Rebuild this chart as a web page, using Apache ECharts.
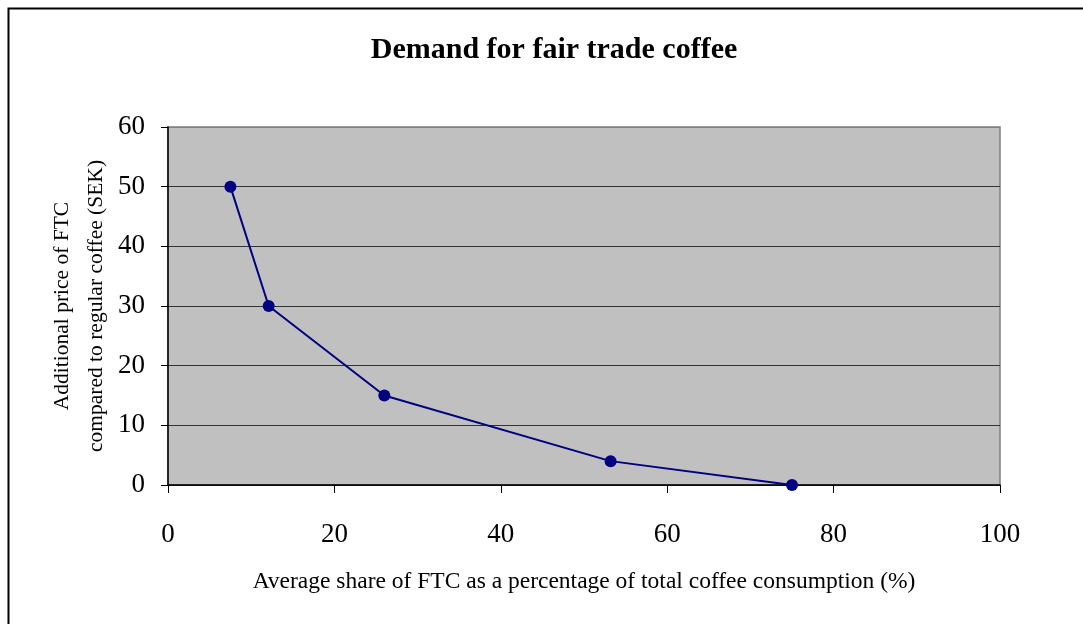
<!DOCTYPE html>
<html>
<head>
<meta charset="utf-8">
<script src="https://cdn.jsdelivr.net/npm/echarts@6/dist/echarts.min.js"></script>
<style>
  html, body { margin: 0; padding: 0; background: #fff; }
  #chart { width: 1083px; height: 624px; }
</style>
</head>
<body>
<div id="chart"></div>
<script>
// Demand curve for fair trade coffee (FTC)
const shareOfConsumption = [7.5, 12.1, 26.0, 53.2, 75.0];   // % of total coffee consumption
const extraPriceSEK      = [50, 30, 15, 4, 0];               // additional price vs regular coffee
const xTicks = [0, 20, 40, 60, 80, 100];
const yTicks = [0, 10, 20, 30, 40, 50, 60];

const points = shareOfConsumption.map((x, i) => [x, extraPriceSEK[i]]);
const serif = '"Liberation Serif", "DejaVu Serif", serif';

const chart = echarts.init(document.getElementById('chart'), null, { renderer: 'canvas' });
chart.setOption({
  backgroundColor: '#ffffff',
  animation: false,
  title: {
    text: 'Demand for fair trade coffee',
    left: 549, top: 30, textAlign: 'center',
    textStyle: { fontFamily: serif, fontWeight: 'bold', fontSize: 30, color: '#000' }
  },
  graphic: [{
    type: 'rect', left: 6, top: 6, z: -1,
    shape: { width: 1200, height: 800 },
    style: { fill: 'none', stroke: '#000', lineWidth: 2 }
  }],
  grid: {
    left: 168, top: 127, right: 83, bottom: 139,
    show: true, backgroundColor: '#c0c0c0', borderColor: '#808080', borderWidth: 1.5
  },
  xAxis: {
    type: 'value', min: xTicks[0], max: xTicks[xTicks.length - 1], interval: 20,
    name: 'Average share of FTC as a percentage of total coffee consumption (%)',
    nameLocation: 'middle', nameGap: 85, nameMoveOverlap: false,
    nameTextStyle: { fontFamily: serif, fontSize: 23.5, color: '#000' },
    axisLine: { show: true, lineStyle: { color: '#000', width: 1.5 } },
    axisTick: { show: true, length: 8, lineStyle: { color: '#000' } },
    axisLabel: { margin: 36, fontFamily: serif, fontSize: 27, color: '#000' },
    splitLine: { show: false }
  },
  yAxis: {
    type: 'value', min: yTicks[0], max: yTicks[yTicks.length - 1], interval: 10,
    name: 'Additional price of FTC\ncompared to regular coffee (SEK)',
    nameLocation: 'middle', nameGap: 89, nameRotate: 90, nameMoveOverlap: false,
    nameTextStyle: { fontFamily: serif, fontSize: 21.5, color: '#000', lineHeight: 34, align: 'center', verticalAlign: 'middle' },
    axisLine: { show: true, lineStyle: { color: '#000', width: 1.5 } },
    axisTick: { show: true, length: 7, lineStyle: { color: '#000' } },
    axisLabel: { margin: 23, fontFamily: serif, fontSize: 27, color: '#000' },
    splitLine: { show: true, lineStyle: { color: ['#333', '#333', '#333', '#333', '#333', '#333', '#808080'], width: 1 } }
  },
  series: [{
    type: 'line', data: points,
    symbol: 'circle', symbolSize: 12,
    lineStyle: { color: '#000080', width: 2 },
    itemStyle: { color: '#000080' }
  }]
});
</script>
</body>
</html>
